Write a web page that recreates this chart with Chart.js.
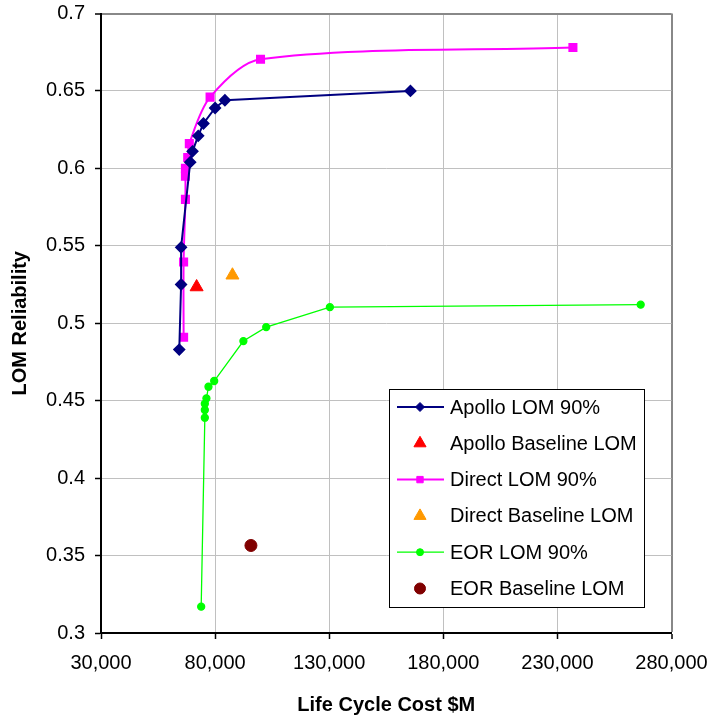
<!DOCTYPE html>
<html>
<head>
<meta charset="utf-8">
<title>LOM Reliability vs Life Cycle Cost</title>
<script src="https://cdn.jsdelivr.net/npm/chart.js@4.4.0/dist/chart.umd.min.js"></script>
<style>
html, body { margin: 0; padding: 0; background: #fff; }
#chart { display: block; }
</style>
</head>
<body>
<canvas id="chart" width="713" height="719"></canvas>
<script>
// values (cost in $M, reliability 0..1)
var apolloCost = [64300, 65100, 65100, 69100, 70100, 72600, 74900, 80000, 84300, 165600];
var apolloRel  = [0.483, 0.525, 0.549, 0.604, 0.611, 0.621, 0.629, 0.639, 0.644, 0.650];

var directCost = [66200, 66200, 67000, 67000, 67000, 68000, 68700, 77800, 99900, 236800];
var directRel  = [0.491, 0.5395, 0.580, 0.595, 0.600, 0.607, 0.616, 0.646, 0.6705, 0.678];

var eorCost = [73900, 75500, 75500, 75500, 76200, 77100, 79600, 92400, 102400, 130300, 266500];
var eorRel  = [0.317, 0.439, 0.444, 0.448, 0.4515, 0.459, 0.4627, 0.4885, 0.4975, 0.5104, 0.512];

// single baseline points
var apolloBaseCost = [71900];
var apolloBaseRel  = [0.5234];
var directBaseCost = [87600];
var directBaseRel  = [0.531];
var eorBaseCost = [95700];
var eorBaseRel  = [0.3565];

var seriesLabels = ["Apollo LOM 90%", "Apollo Baseline LOM", "Direct LOM 90%",
                    "Direct Baseline LOM", "EOR LOM 90%", "EOR Baseline LOM"];

var xTicks = [30000, 80000, 130000, 180000, 230000, 280000];
var yTicks = [0.3, 0.35, 0.4, 0.45, 0.5, 0.55, 0.6, 0.65, 0.7];

var FONT = '"Liberation Sans", Arial, sans-serif';

function toPoints(xs, ys) {
    return xs.map(function(x, i) { return {x: x, y: ys[i]}; });
}

// legend box drawn inside the plot, like the excel one
var boxLegend = {
    id: 'boxLegend',
    afterDatasetsDraw: function(chart) {
        var ctx = chart.ctx;
        var area = chart.chartArea;
        var w = 255, h = 218;
        var left = Math.round(area.right - 28 - w);
        var top = Math.round(area.bottom - 26 - h);

        ctx.save();
        ctx.fillStyle = '#fff';
        ctx.fillRect(left, top, w, h);
        ctx.strokeStyle = '#000';
        ctx.lineWidth = 1;
        ctx.strokeRect(left + 0.5, top + 0.5, w, h);

        ctx.font = '20px ' + FONT;
        ctx.textBaseline = 'middle';
        ctx.textAlign = 'left';

        chart.data.datasets.forEach(function(ds, i) {
            var y = top + 18 + i * 36.3;
            if (ds.showLine) {
                ctx.strokeStyle = ds.borderColor;
                ctx.lineWidth = ds.borderWidth;
                ctx.beginPath();
                ctx.moveTo(left + 8, y);
                ctx.lineTo(left + 55, y);
                ctx.stroke();
            }
            ctx.fillStyle = ds.pointBackgroundColor;
            ctx.strokeStyle = ds.pointBorderColor;
            ctx.lineWidth = 1;
            Chart.helpers.drawPoint(ctx, {
                pointStyle: ds.pointStyle,
                rotation: 0,
                radius: ds.legendRadius,
                borderWidth: 1
            }, left + 31, y);

            ctx.fillStyle = '#000';
            ctx.fillText(ds.label, left + 61, y + 1);
        });
        ctx.restore();
    }
};

new Chart(document.getElementById("chart"), {
    type: 'scatter',
    data: {
        datasets: [
        {
            label: seriesLabels[0],
            data: toPoints(apolloCost, apolloRel),
            showLine: true,
            borderColor: '#000080',
            borderWidth: 2,
            pointStyle: 'rectRot',
            pointRadius: 5,
            pointBackgroundColor: '#000080',
            pointBorderColor: '#000080',
            legendRadius: 4.5
        },
        {
            label: seriesLabels[1],
            data: toPoints(apolloBaseCost, apolloBaseRel),
            showLine: false,
            pointStyle: 'triangle',
            pointRadius: 7.5,
            pointBackgroundColor: '#ff0000',
            pointBorderColor: '#ff0000',
            legendRadius: 7
        },
        {
            label: seriesLabels[2],
            data: toPoints(directCost, directRel),
            showLine: true,
            tension: 0.3,
            borderColor: '#ff00ff',
            borderWidth: 2,
            pointStyle: 'rect',
            pointRadius: 5,
            pointBackgroundColor: '#ff00ff',
            pointBorderColor: '#ff00ff',
            legendRadius: 4.5
        },
        {
            label: seriesLabels[3],
            data: toPoints(directBaseCost, directBaseRel),
            showLine: false,
            pointStyle: 'triangle',
            pointRadius: 7.5,
            pointBackgroundColor: '#ff9900',
            pointBorderColor: '#ff9900',
            legendRadius: 7
        },
        {
            label: seriesLabels[4],
            data: toPoints(eorCost, eorRel),
            showLine: true,
            borderColor: '#00ff00',
            borderWidth: 1.3,
            pointStyle: 'circle',
            pointRadius: 3.5,
            pointBackgroundColor: '#00ff00',
            pointBorderColor: '#00ff00',
            legendRadius: 3.5
        },
        {
            label: seriesLabels[5],
            data: toPoints(eorBaseCost, eorBaseRel),
            showLine: false,
            pointStyle: 'circle',
            pointRadius: 6,
            pointBackgroundColor: '#800000',
            pointBorderColor: '#800000',
            legendRadius: 5.5
        }
        ]
    },
    options: {
        responsive: false,
        animation: false,
        events: [],
        layout: { padding: { top: 13.5, right: 41.5, bottom: 0, left: 0 } },
        plugins: {
            legend: { display: false },
            tooltip: { enabled: false }
        },
        scales: {
            x: {
                type: 'linear',
                min: 30000,
                max: 280000,
                afterBuildTicks: function(scale) {
                    scale.ticks = xTicks.map(function(v) { return {value: v}; });
                },
                afterFit: function(scale) {
                    scale.height = 86;
                    // no extra room for the end labels, layout padding handles it
                    scale.paddingLeft = 0;
                    scale.paddingRight = 0;
                },
                ticks: {
                    autoSkip: false,
                    maxRotation: 0,
                    padding: 12,
                    color: '#000',
                    font: { family: FONT, size: 20 },
                    callback: function(v) { return v.toLocaleString('en-US'); }
                },
                grid: {
                    color: function(c) { return c.tick && c.tick.value === 280000 ? '#888888' : '#c0c0c0'; },
                    lineWidth: function(c) { return c.tick && c.tick.value === 280000 ? 2 : 1; },
                    tickColor: '#000',
                    tickLength: 6,
                    tickWidth: 1.5
                },
                border: { color: '#000', width: 2 },
                title: {
                    display: true,
                    text: 'Life Cycle Cost $M',
                    color: '#000',
                    font: { family: FONT, size: 20, weight: 'bold' },
                    padding: { top: 0, bottom: 2 }
                }
            },
            y: {
                type: 'linear',
                min: 0.3,
                max: 0.7,
                afterBuildTicks: function(scale) {
                    scale.ticks = yTicks.map(function(v) { return {value: v}; });
                },
                afterFit: function(scale) {
                    scale.width = 101;
                    scale.paddingTop = 0;
                    scale.paddingBottom = 0;
                },
                ticks: {
                    padding: 10,
                    color: '#000',
                    font: { family: FONT, size: 20 },
                    callback: function(v) { return String(v); }
                },
                grid: {
                    color: function(c) { return c.tick && c.tick.value === 0.7 ? '#888888' : '#c0c0c0'; },
                    lineWidth: function(c) { return c.tick && c.tick.value === 0.7 ? 2 : 1; },
                    tickColor: '#000',
                    tickLength: 6,
                    tickWidth: 1.5
                },
                border: { color: '#000', width: 2 },
                title: {
                    display: true,
                    text: 'LOM Reliability',
                    color: '#000',
                    font: { family: FONT, size: 20, weight: 'bold' },
                    padding: { top: 8, bottom: 0 }
                }
            }
        }
    },
    plugins: [boxLegend]
});
</script>
</body>
</html>
